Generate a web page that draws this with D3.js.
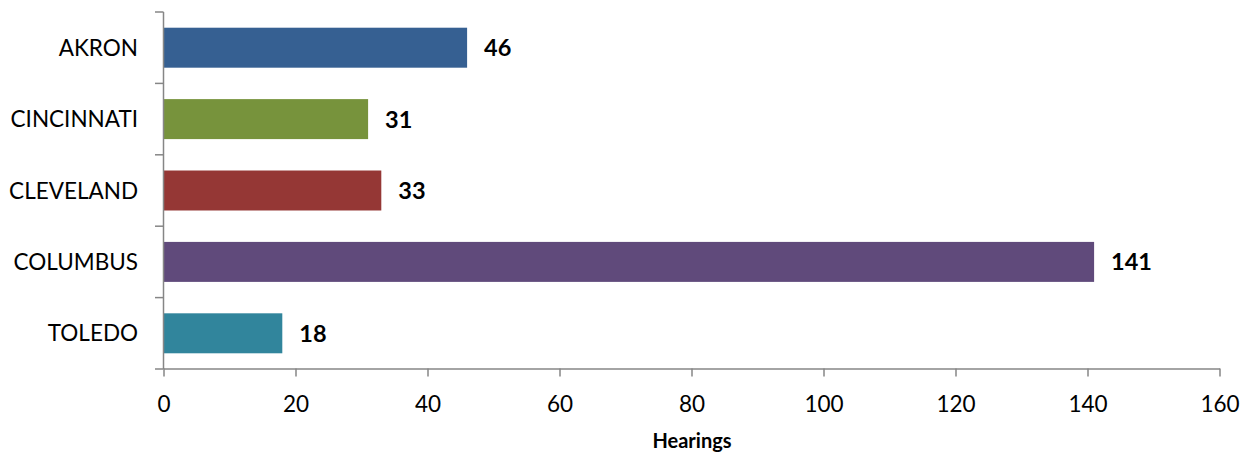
<!DOCTYPE html>
<html><head><meta charset="utf-8">
<script src="https://cdn.jsdelivr.net/npm/d3@7"></script>
<style>body{margin:0;background:#fff}svg{display:block}</style>
</head><body>
<svg id="c" width="1251" height="453"></svg>
<script>
const categories = ["AKRON","CINCINNATI","CLEVELAND","COLUMBUS","TOLEDO"];
const values = [46,31,33,141,18];
const colors = ["#366092","#77933C","#953735","#604A7B","#31859C"];
const xTicks = [0,20,40,60,80,100,120,140,160];
const xTitle = "Hearings";

const svg = d3.select("#c");
const font = "Lato, 'Open Sans', sans-serif";
const x = d3.scaleLinear().domain([0,160]).range([163.5,1219.5]);
const y = d3.scaleBand().domain(categories).range([12,369]).paddingInner(0.44).paddingOuter(0.22);
const axisColor = "#868686";

// bars
svg.selectAll("rect.bar").data(categories).join("rect")
  .attr("x", x(0)).attr("y", d=>y(d))
  .attr("width", (d,i)=>x(values[i])-x(0)).attr("height", y.bandwidth())
  .attr("fill", (d,i)=>colors[i]);

// value labels
svg.selectAll("text.val").data(categories).join("text")
  .attr("x", (d,i)=>x(values[i])+17).attr("y", d=>y(d)+y.bandwidth()/2)
  .attr("dy","0.36em").attr("font-family",font).attr("font-weight","bold")
  .attr("font-size",23.5).attr("fill","#000").text((d,i)=>values[i]);

// y axis
const step = (369-12)/categories.length;
const yg = svg.append("g");
yg.append("line").attr("x1",163.5).attr("x2",163.5).attr("y1",12).attr("y2",369).attr("stroke",axisColor).attr("stroke-width",1.5);
yg.selectAll("line.t").data(d3.range(categories.length+1)).join("line")
  .attr("x1",155).attr("x2",163.5).attr("y1",i=>12+i*step).attr("y2",i=>12+i*step)
  .attr("stroke",axisColor).attr("stroke-width",1.5);
yg.selectAll("text").data(categories).join("text")
  .attr("x",138).attr("y",d=>y(d)+y.bandwidth()/2).attr("dy","0.36em")
  .attr("text-anchor","end").attr("font-family",font).attr("font-size",22.5).attr("fill","#000").text(d=>d);

// x axis
const xg = svg.append("g").attr("transform","translate(0,368.5)");
const xAxis = d3.axisBottom(x).tickValues(xTicks).tickSize(8).tickSizeOuter(0).tickPadding(10);
xg.call(xAxis);
xg.select(".domain").attr("stroke",axisColor).attr("stroke-width",1.5);
xg.selectAll(".tick line").attr("stroke",axisColor).attr("stroke-width",1.5);
xg.selectAll(".tick text").attr("font-family",font).attr("font-size",22.5).attr("fill","#000")
  .attr("y",43.5).attr("dy",null);

svg.append("text").attr("x",692).attr("y",448).attr("text-anchor","middle")
  .attr("font-family",font).attr("font-weight","bold").attr("font-size",20).attr("fill","#000").text(xTitle);
</script>
</body></html>
